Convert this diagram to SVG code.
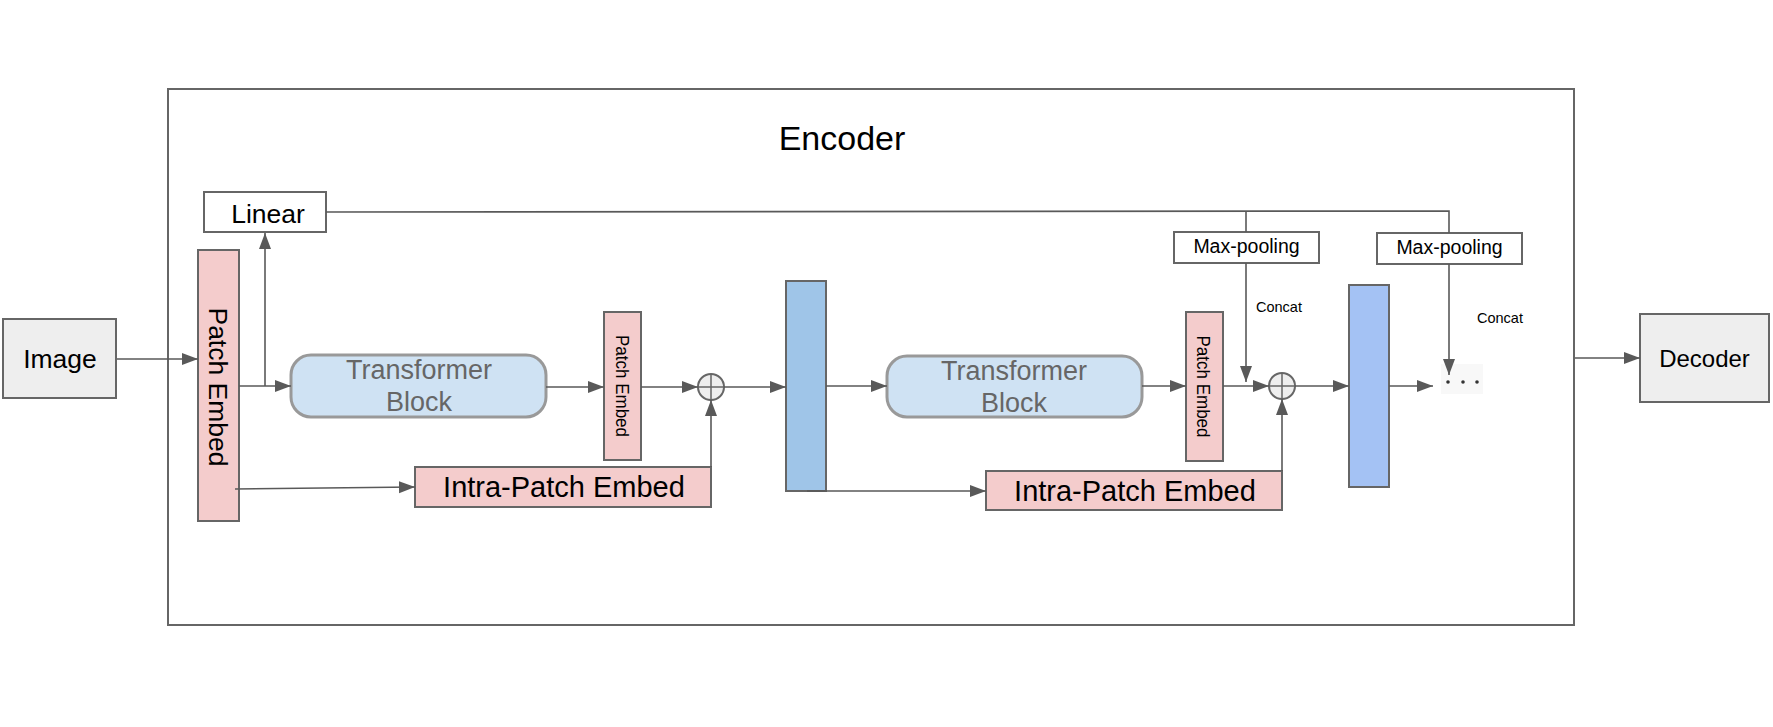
<svg xmlns="http://www.w3.org/2000/svg" width="1773" height="727" viewBox="0 0 1773 727">
<style>
  text { font-family: "Liberation Sans", Arial, sans-serif; fill: #000; }
  .pink { fill: #f4cccc; stroke: #666; stroke-width: 2; }
  .gray { fill: #eeeeee; stroke: #666; stroke-width: 2; }
  .white { fill: #fff; stroke: #666; stroke-width: 2; }
  .tb { fill: #cfe2f3; stroke: #999; stroke-width: 3; }
  .tbt { fill: #666; font-size: 27px; text-anchor: middle; }
  .conn { fill: none; stroke: #595959; stroke-width: 1.6; }
  .arr { marker-end: url(#ah); }
  .mid { text-anchor: middle; }
</style>
<defs>
  <marker id="ah" markerUnits="userSpaceOnUse" markerWidth="17" markerHeight="13" refX="16" refY="6" orient="auto">
    <path d="M0,0 L16,6 L0,12 z" fill="#595959"/>
  </marker>
</defs>
<rect width="1773" height="727" fill="#fff"/>

<g id="encoder">
  <rect x="168" y="89" width="1406" height="536" fill="#fff" stroke="#666" stroke-width="2"/>
  <text x="842" y="150" class="mid" font-size="34">Encoder</text>
</g>

<g id="image">
  <rect x="3" y="319" width="113" height="79" class="gray"/>
  <text x="60" y="368" class="mid" font-size="26.5">Image</text>
</g>

<g id="decoder">
  <rect x="1640" y="314" width="129" height="88" class="gray"/>
  <text x="1704.5" y="367" class="mid" font-size="24">Decoder</text>
</g>

<g id="linear">
  <rect x="204" y="192" width="122" height="40" class="white"/>
  <text x="268" y="223" class="mid" font-size="26.5">Linear</text>
</g>

<g id="patch-embed-0">
  <rect x="198" y="250" width="41" height="271" class="pink"/>
  <text transform="translate(209,387) rotate(90)" class="mid" font-size="26.5">Patch Embed</text>
</g>

<g id="transformer-1">
  <rect x="291" y="355" width="255" height="62" rx="20" class="tb"/>
  <text x="419" y="379" class="tbt">Transformer</text>
  <text x="419" y="411" class="tbt">Block</text>
</g>

<g id="patch-embed-1">
  <rect x="604" y="312" width="37" height="148" class="pink"/>
  <text transform="translate(616,386) rotate(90)" class="mid" font-size="18" textLength="102" lengthAdjust="spacingAndGlyphs">Patch Embed</text>
</g>

<g id="intra-1">
  <rect x="415" y="467" width="296" height="40" class="pink"/>
  <text x="564" y="497" class="mid" font-size="29">Intra-Patch Embed</text>
</g>

<g id="add-1">
  <circle cx="711" cy="387" r="13" fill="#eeeeee" stroke="#666" stroke-width="2"/>
  <path d="M698,387 H724 M711,374 V400" stroke="#666" stroke-width="1.5"/>
</g>

<g id="blue-1">
  <rect x="786" y="281" width="40" height="210" fill="#9fc5e8" stroke="#666" stroke-width="2"/>
</g>

<g id="transformer-2">
  <rect x="887" y="356" width="255" height="61" rx="20" class="tb"/>
  <text x="1014" y="380" class="tbt">Transformer</text>
  <text x="1014" y="412" class="tbt">Block</text>
</g>

<g id="patch-embed-2">
  <rect x="1186" y="312" width="37" height="149" class="pink"/>
  <text transform="translate(1197,386.5) rotate(90)" class="mid" font-size="18" textLength="102" lengthAdjust="spacingAndGlyphs">Patch Embed</text>
</g>

<g id="intra-2">
  <rect x="986" y="471" width="296" height="39" class="pink"/>
  <text x="1135" y="501" class="mid" font-size="29">Intra-Patch Embed</text>
</g>

<g id="add-2">
  <circle cx="1282" cy="386" r="13" fill="#eeeeee" stroke="#666" stroke-width="2"/>
  <path d="M1269,386 H1295 M1282,373 V399" stroke="#666" stroke-width="1.5"/>
</g>

<g id="blue-2">
  <rect x="1349" y="285" width="40" height="202" fill="#a4c2f4" stroke="#666" stroke-width="2"/>
</g>

<g id="maxpool-1">
  <rect x="1174" y="232" width="145" height="31" class="white"/>
  <text x="1246.5" y="253" class="mid" font-size="19.5">Max-pooling</text>
</g>

<g id="maxpool-2">
  <rect x="1377" y="233" width="145" height="31" class="white"/>
  <text x="1449.5" y="254" class="mid" font-size="19.5">Max-pooling</text>
</g>

<g id="ellipsis">
  <rect x="1441" y="364" width="42" height="30" fill="#f8f8f8"/>
  <circle cx="1448" cy="382" r="1.8" fill="#333"/>
  <circle cx="1463" cy="382" r="1.8" fill="#333"/>
  <circle cx="1477" cy="382" r="1.8" fill="#333"/>
</g>

<g id="labels">
  <text x="1256" y="312" font-size="14.5">Concat</text>
  <text x="1477" y="323" font-size="14.5">Concat</text>
</g>

<g id="connectors">
  <path class="conn arr" d="M117,359 H198"/>
  <path class="conn arr" d="M239,386 H291"/>
  <path class="conn arr" d="M265,386 V233"/>
  <path class="conn arr" d="M235,489 L415,487"/>
  <path class="conn arr" d="M546,387 H604"/>
  <path class="conn arr" d="M641,387 H698"/>
  <path class="conn arr" d="M711,467 V400"/>
  <path class="conn arr" d="M724,387 H786"/>
  <path class="conn arr" d="M826,386 H887"/>
  <path class="conn arr" d="M807,491 H986"/>
  <path class="conn arr" d="M1142,386 H1186"/>
  <path class="conn arr" d="M1223,386 H1269"/>
  <path class="conn arr" d="M1282,471 V399"/>
  <path class="conn arr" d="M1295,386 H1349"/>
  <path class="conn arr" d="M1389,386 H1433"/>
  <path class="conn" d="M326,212 L1449,211 V233"/>
  <path class="conn" d="M1246,211 V232"/>
  <path class="conn arr" d="M1246,263 V382"/>
  <path class="conn arr" d="M1449,264 V375"/>
  <path class="conn arr" d="M1575,358 H1640"/>
</g>
</svg>
